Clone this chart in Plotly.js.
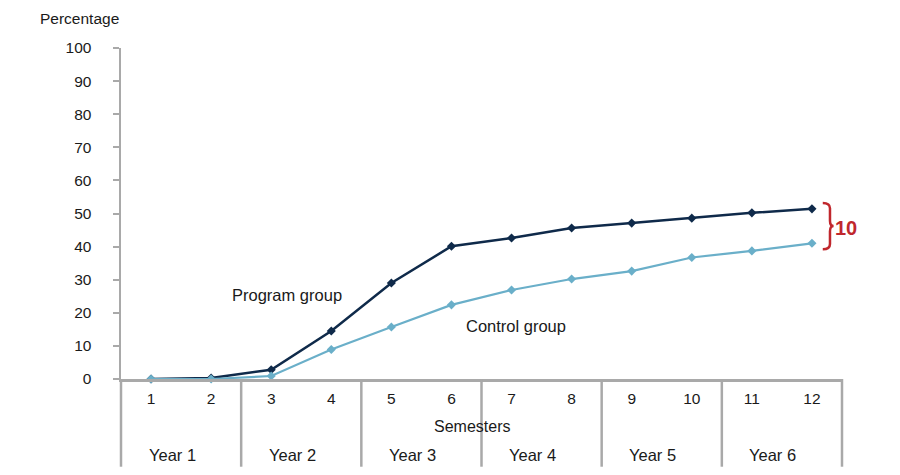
<!DOCTYPE html>
<html>
<head>
<meta charset="utf-8">
<script src="https://cdn.plot.ly/plotly-3.0.1.min.js"></script>
<style>html,body{margin:0;padding:0;background:#fff;}#chart{width:900px;height:475px;}</style>
</head>
<body>
<div id="chart"></div>
<script>
const semesters = [1,2,3,4,5,6,7,8,9,10,11,12];
const programGroup = [0, 0.3, 2.8, 14.5, 29, 40.1, 42.6, 45.6, 47.1, 48.6, 50.2, 51.4];
const controlGroup = [0, 0, 0.9, 8.9, 15.7, 22.4, 26.9, 30.2, 32.6, 36.7, 38.7, 41.0];
const yearLabels = ['Year 1','Year 2','Year 3','Year 4','Year 5','Year 6'];
const yearStarts = [1,3,5,7,9,11];
const gapLabel = '10';

const FONT = 'Liberation Sans, Arial, sans-serif';
const GRAY = '#a9a9a9';
const NAVY = '#0f2a4a';
const LIGHT = '#6aafc9';
const RED = '#c0272d';

const xMin = 0.5, xMax = 12.5;
const toPaperX = v => (v - xMin) / (xMax - xMin);

const traces = [
  {x: semesters, y: programGroup, type: 'scatter', mode: 'lines+markers', name: 'Program group',
   line: {color: NAVY, width: 2.5}, marker: {symbol: 'diamond', size: 7, color: NAVY}, cliponaxis: false},
  {x: semesters, y: controlGroup, type: 'scatter', mode: 'lines+markers', name: 'Control group',
   line: {color: LIGHT, width: 2.2}, marker: {symbol: 'diamond', size: 7, color: LIGHT}, cliponaxis: false}
];

const bottomY = -0.265;
const shapes = [];
// year separators (including left and right border)
const bounds = yearStarts.map(s => s - 0.5).concat([yearStarts[yearStarts.length-1] + 1.5]);
bounds.forEach(b => {
  shapes.push({type: 'line', xref: 'paper', yref: 'paper', x0: toPaperX(b), x1: toPaperX(b), y0: 0, y1: bottomY,
    line: {color: GRAY, width: 2.5}});
});
// brace between final values
const last = semesters.length - 1;
const yT = programGroup[last] + 1.8, yB = controlGroup[last] - 1.8, yM = (yT + yB) / 2, d = 1.6;
const bx0 = semesters[last] + 0.18, bx1 = semesters[last] + 0.3, bx2 = semesters[last] + 0.36;
shapes.push({type: 'path', xref: 'x', yref: 'y',
  path: `M ${bx0},${yT} Q ${bx1},${yT} ${bx1},${yT-d} L ${bx1},${yM+d} Q ${bx1},${yM} ${bx2},${yM} Q ${bx1},${yM} ${bx1},${yM-d} L ${bx1},${yB+d} Q ${bx1},${yB} ${bx0},${yB}`,
  line: {color: RED, width: 2.5}});

const annotations = [
  {text: 'Percentage', xref: 'paper', yref: 'paper', x: -0.057, y: 1.09, showarrow: false, xanchor: 'center', yanchor: 'middle',
   font: {family: FONT, size: 15.5, color: '#1a1a1a'}},
  {text: 'Program group', xref: 'x', yref: 'y', x: 3.27, y: 25.4, showarrow: false,
   font: {family: FONT, size: 16.5, color: '#1a1a1a'}},
  {text: 'Control group', xref: 'x', yref: 'y', x: 7.07, y: 16, showarrow: false,
   font: {family: FONT, size: 16.5, color: '#1a1a1a'}},
  {text: '<b>' + gapLabel + '</b>', xref: 'paper', yref: 'paper', x: toPaperX(semesters[last] + 0.56), y: (yM - 0.6) / 100,
   showarrow: false, xanchor: 'center', yanchor: 'middle', font: {family: FONT, size: 20, color: RED}},
  {text: 'Semesters', xref: 'paper', yref: 'paper', x: toPaperX(6.34), y: -0.145, showarrow: false,
   xanchor: 'center', yanchor: 'middle', font: {family: FONT, size: 16, color: '#1a1a1a'}}
];
yearLabels.forEach((t, i) => {
  annotations.push({text: t, xref: 'paper', yref: 'paper', x: toPaperX(yearStarts[i] + 0.35), y: -0.23, showarrow: false,
    xanchor: 'center', yanchor: 'middle', font: {family: FONT, size: 16.5, color: '#1a1a1a'}});
});

const layout = {
  width: 900, height: 475,
  margin: {l: 121, r: 58, t: 48, b: 96, pad: 0},
  paper_bgcolor: '#fff', plot_bgcolor: '#fff',
  showlegend: false,
  font: {family: FONT, size: 15.5, color: '#1a1a1a'},
  xaxis: {range: [xMin, xMax], tickvals: semesters, ticktext: semesters.map(String), ticks: '', showgrid: false,
    zeroline: false, showline: true, linecolor: GRAY, linewidth: 2.5, ticklabelstandoff: 4,
    tickfont: {family: FONT, size: 15.5, color: '#1a1a1a'}, fixedrange: true},
  yaxis: {range: [0, 100], dtick: 10, ticks: 'outside', ticklen: 6, tickwidth: 2, tickcolor: GRAY, showgrid: false,
    zeroline: false, showline: true, linecolor: GRAY, linewidth: 2.5, ticklabelstandoff: 18,
    tickfont: {family: FONT, size: 15.5, color: '#1a1a1a'}, fixedrange: true},
  shapes: shapes,
  annotations: annotations
};

Plotly.newPlot('chart', traces, layout, {displayModeBar: false, staticPlot: true});
</script>
</body>
</html>
